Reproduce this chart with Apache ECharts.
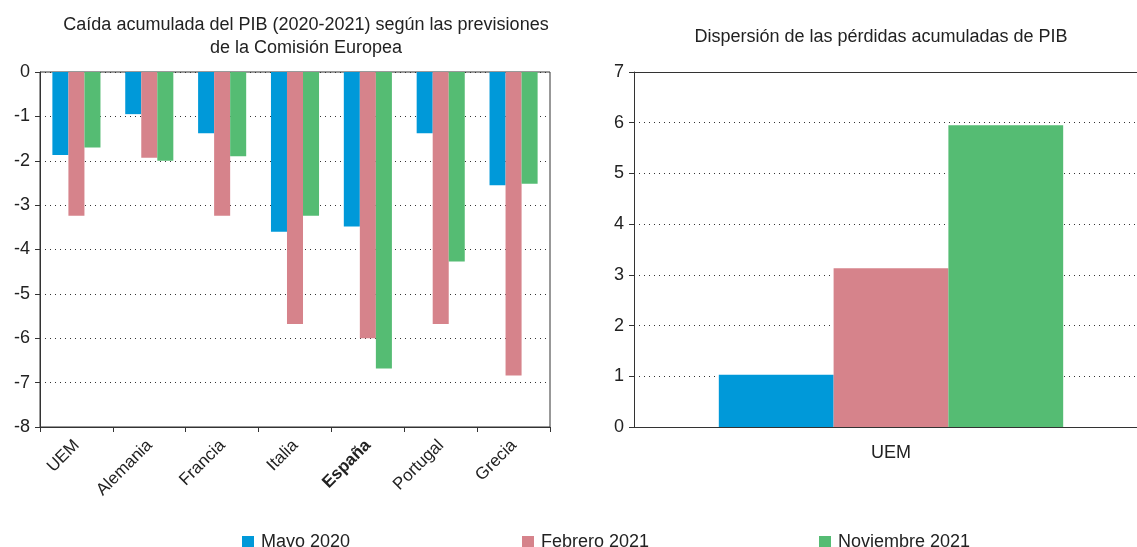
<!DOCTYPE html>
<html>
<head>
<meta charset="utf-8">
<script src="https://cdn.jsdelivr.net/npm/echarts@6/dist/echarts.min.js"></script>
<style>
  html, body { margin: 0; padding: 0; background: #fff; }
  #chart { width: 1137px; height: 547px; }
</style>
</head>
<body>
<div id="chart"></div>
<script>
// Country categories and GDP cumulative fall (2020-2021), % — European Commission forecasts
const countries = ['UEM', 'Alemania', 'Francia', 'Italia', 'España', 'Portugal', 'Grecia'];
const mayo2020 = [-1.87, -0.95, -1.38, -3.6, -3.48, -1.38, -2.55];
const febrero2021 = [-3.24, -1.93, -3.24, -5.68, -6.0, -5.68, -6.84];
const noviembre2021 = [-1.7, -2.0, -1.9, -3.24, -6.68, -4.27, -2.52];

// Dispersion of cumulative losses (UEM)
const dispCategories = ['UEM'];
const dispMayo = [1.03];
const dispFebrero = [3.13];
const dispNoviembre = [5.95];

const seriesNames = ['Mayo 2020', 'Febrero 2021', 'Noviembre 2021'];
const colors = ['#0099d9', '#d6838b', '#55bc73'];

const FONT = '"Liberation Sans", Arial, sans-serif';
const TXT = '#222';

const chart = echarts.init(document.getElementById('chart'), null, { renderer: 'canvas' });

const dotted = { show: true, lineStyle: { color: '#333', type: [1, 4], width: 1 } };

chart.setOption({
  animation: false,
  color: colors,
  textStyle: { fontFamily: FONT, color: TXT },
  title: [
    {
      text: 'Caída acumulada del PIB (2020-2021) según las previsiones\nde la Comisión Europea',
      left: 301, top: 9, textAlign: 'center',
      textStyle: { fontFamily: FONT, fontSize: 18, fontWeight: 'normal', color: TXT, lineHeight: 23 }
    },
    {
      text: 'Dispersión de las pérdidas acumuladas de PIB',
      left: 876, top: 23, textAlign: 'center',
      textStyle: { fontFamily: FONT, fontSize: 18, fontWeight: 'normal', color: TXT }
    }
  ],
  legend: [
    { data: [seriesNames[0]], left: 242, top: 533 },
    { data: [seriesNames[1]], left: 522, top: 533 },
    { data: [seriesNames[2]], left: 819, top: 533 }
  ].map(l => Object.assign(l, {
    itemWidth: 12, itemHeight: 12, itemGap: 0, icon: 'rect', padding: 0,
    textStyle: { fontFamily: FONT, fontSize: 18, color: TXT, padding: [0, 0, 0, 2] }
  })),
  grid: [
    { left: 40, top: 72, width: 510, height: 355, show: true, borderColor: '#333', borderWidth: 1, outerBoundsMode: 'none' },
    { left: 634, top: 72, width: 514, height: 355, outerBoundsMode: 'none' }
  ],
  xAxis: [
    {
      type: 'category', gridIndex: 0, data: countries, position: 'bottom',
      axisLine: { onZero: false, lineStyle: { color: '#333' } },
      axisTick: { show: true, length: 5, lineStyle: { color: '#333' } },
      axisLabel: {
        rotate: 45, margin: -3, fontSize: 17, color: TXT, fontFamily: FONT,
        verticalAlign: 'top', padding: [5, 13, 0, 0],
        formatter: v => v === 'España' ? '{b|' + v + '}' : v,
        rich: { b: { fontWeight: 'bold', fontSize: 17, color: TXT, fontFamily: FONT } }
      }
    },
    {
      type: 'category', gridIndex: 1, data: dispCategories,
      axisLine: { lineStyle: { color: '#333' } },
      axisTick: { show: false },
      axisLabel: { margin: 17, fontSize: 18, color: TXT, fontFamily: FONT }
    }
  ],
  yAxis: [
    {
      type: 'value', gridIndex: 0, min: -8, max: 0, interval: 1,
      axisLine: { show: true, lineStyle: { color: '#333' } },
      axisTick: { show: true, length: 5, lineStyle: { color: '#333' } },
      axisLabel: { fontSize: 18, color: TXT, fontFamily: FONT, margin: 10 },
      splitLine: dotted
    },
    {
      type: 'value', gridIndex: 1, min: 0, max: 7, interval: 1,
      axisLine: { show: true, lineStyle: { color: '#333' } },
      axisTick: { show: true, length: 5, lineStyle: { color: '#333' } },
      axisLabel: { fontSize: 18, color: TXT, fontFamily: FONT, margin: 10 },
      splitLine: dotted
    }
  ],
  series: [
    { name: seriesNames[0], type: 'bar', xAxisIndex: 0, yAxisIndex: 0, data: mayo2020, barGap: '0%', barCategoryGap: '34%' },
    { name: seriesNames[1], type: 'bar', xAxisIndex: 0, yAxisIndex: 0, data: febrero2021, barGap: '0%', barCategoryGap: '34%' },
    { name: seriesNames[2], type: 'bar', xAxisIndex: 0, yAxisIndex: 0, data: noviembre2021, barGap: '0%', barCategoryGap: '34%' },
    { name: seriesNames[0], type: 'bar', xAxisIndex: 1, yAxisIndex: 1, data: dispMayo, barGap: '0%', barCategoryGap: '33%' },
    { name: seriesNames[1], type: 'bar', xAxisIndex: 1, yAxisIndex: 1, data: dispFebrero, barGap: '0%', barCategoryGap: '33%' },
    { name: seriesNames[2], type: 'bar', xAxisIndex: 1, yAxisIndex: 1, data: dispNoviembre, barGap: '0%', barCategoryGap: '33%' },
    // solid top edge of the dispersion panel at the value 7
    { type: 'line', xAxisIndex: 1, yAxisIndex: 1, data: [], silent: true,
      markLine: { silent: true, symbol: 'none', label: { show: false },
        lineStyle: { color: '#333', type: 'solid', width: 1 }, data: [{ yAxis: 7 }] } }
  ]
});
</script>
</body>
</html>
